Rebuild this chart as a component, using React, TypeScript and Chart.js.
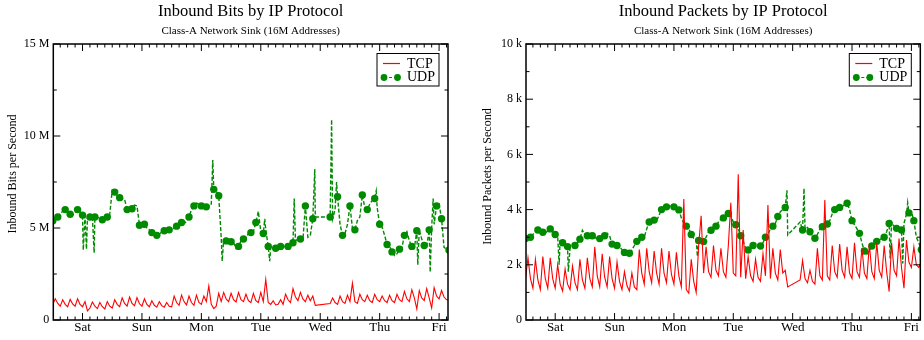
import React, { useEffect, useRef } from 'react';
import { Chart, registerables } from 'chart.js';

Chart.register(...registerables);

// ---------- data (hourly samples, hour 0 = Saturday 00:00) ----------
const START_HOUR = -12;
const DAY_LABELS = ['Sat', 'Sun', 'Mon', 'Tue', 'Wed', 'Thu', 'Fri'];
const SERIES_LABELS = ['TCP', 'UDP'];

// Inbound bits per second, in Mbit/s
const TCP_BITS: (number | null)[] = [
  0.85, 1.15, 0.9, 0.75, 1.1, 0.85, 0.72, 1.12, 0.88, 0.75, 1.15, 0.85,
  0.72, 1.0, 0.5, 0.65, 0.98, 0.75, 0.62, 0.95, 0.72, 0.6, 1.0, 0.75, 0.65,
  1.1, 0.85, 0.72, 1.2, 0.9, 0.75, 1.25, 0.9, 0.78, 1.22, 0.88, 0.75, 1.15, 0.85, 0.72, 1.05, 0.8, 0.7, 1.0, 0.78, 0.7, 0.95, 0.75,
  0.72, 1.3, 0.95, 0.8, 1.35, 1.0, 0.82, 1.3, 0.95, 0.8, 1.35, 0.95, 0.85, 1.3, 1.0, 1.85, 0.85, 0.62, 0.75, 1.45,
  1.0, 1.5, 1.15, 1.0, 1.45, 1.1, 0.98, 1.5, 1.1, 1.0, 1.4, 1.05, 0.95, 1.45, 1.05, 0.95, 1.5, 1.0, 2.2, 0.95, 0.85, 1.05, 0.82, 0.85, 1.1, 0.85,
  1.4, 1.1, 0.95, 1.7, 1.25, 1.05, 1.5, 1.15, 1.0, 1.35, 1.05, 1.3, 0.8,
  null, null, null, null, null,
  0.9, 1.2, 0.95, 0.85, 1.3, 1.0, 0.9, 1.35, 1.0, 2.0, 1.0, 0.9,
  1.4, 1.1, 1.0, 1.35, 1.05, 0.95, 1.4, 1.1, 1.0, 1.3, 1.05, 0.95, 1.35, 1.05, 0.95, 1.4, 1.1, 1.0,
  1.55, 1.15, 1.0, 1.65, 1.2, 0.6, 1.6, 1.2, 1.05, 1.7, 1.2, 0.65, 1.75, 1.3, 1.15, 1.6, 1.25, 1.1, 1.1,
];

const UDP_BITS: (number | null)[] = [
  5.4, 5.45, 5.6, 5.8, 5.9, 6.0, 5.85, 5.75, 5.7, 5.85, 6.0, 5.9,
  5.7, 5.65, 5.6, 5.6, 5.55, 5.6, 5.55, 5.6, 5.45, 5.4, 5.6, 5.75,
  7.05, 6.95, 6.75, 6.65, 6.6, 6.55, 6.0, 6.0, 6.05, 6.25, 6.2, 5.15,
  5.1, 5.2, 5.0, 4.9, 4.75, 4.7, 4.6, 4.65, 4.8, 4.85, 4.95, 4.9,
  4.85, 5.0, 5.1, 5.25, 5.3, 5.25, 5.35, 5.6, 6.0, 6.2, 6.35, 6.3,
  6.2, 6.25, 6.15, 6.2, 6.3, 7.1, 7.0, 6.75, 4.5, 4.35, 4.3, 4.2,
  4.25, 4.2, 3.9, 4.0, 4.3, 4.4, 4.5, 4.7, 4.75, 4.8, 5.3, 5.9,
  4.8, 4.7, 4.9, 4.0, 3.95, 4.0, 3.9, 3.95, 4.0, 4.05, 3.95, 4.0,
  4.05, 4.2, 4.3, 4.4, 4.4, 4.35, 6.2, 4.5, 4.6, 5.5, 5.6,
  null, null, null, null, null,
  5.6, 5.5, 6.0, 6.7, 5.2, 4.6, 4.7, 5.2, 6.2, 5.0, 4.9, 5.4,
  5.6, 6.8, 6.1, 6.0, 6.3, 6.5, 6.6, 6.1, 5.2, 5.05, 4.6, 4.1,
  4.0, 3.7, 3.5, 3.6, 3.85, 3.95, 4.6, 4.8, 4.3, 4.0, 3.9, 4.85,
  4.9, 4.4, 4.05, 4.0, 4.9, 5.0, 5.2, 6.2, 6.3, 5.5, 3.95, 3.85, 3.8,
];
// short-lived UDP bursts / drops between hourly samples
const UDP_BITS_SPIKE_T = [0.3, 1.6, 4.7, 52.6, 56.4, 73.6, 75.6, 85.5, 93.8, 100.6, 102.6, 118.6, 135.4, 140.4, 141.6];
const UDP_BITS_SPIKE_V = [3.8, 3.85, 3.65, 8.7, 3.2, 5.5, 3.2, 6.6, 8.2, 10.9, 7.5, 7.0, 3.0, 2.6, 6.6];

// Inbound packets per second, in kpkt/s
const TCP_PKTS: (number | null)[] = [
  1.5, 2.25, 1.5, 1.15, 2.2, 1.45, 1.1, 2.3, 1.5, 1.15, 2.25, 1.5,
  1.15, 2.0, 1.3, 1.05, 1.85, 1.3, 1.1, 1.95, 1.35, 1.1, 2.2, 1.45, 1.15, 2.25, 1.5, 1.2, 2.65, 1.6, 1.2, 2.4, 1.55, 1.2, 2.3, 1.5,
  1.15, 2.1, 1.4, 1.1, 1.75, 1.25, 1.05, 1.7, 1.2, 1.1,
  2.55, 1.7, 1.3, 2.6, 1.75, 1.35, 2.5, 1.7, 1.3, 2.6, 1.7, 1.35, 2.5, 1.65, 1.3,
  2.45, 1.6, 1.2, 4.38, 1.1, 0.97, 2.2, 1.4, 1.0, 2.7, 3.78, 1.7,
  2.65, 1.75, 1.55, 2.7, 1.8, 1.6, 2.6, 1.75, 1.55, 2.7, 4.25, 1.7, 1.6, 5.28, 1.55, 3.26, 1.5,
  2.3, 1.6, 1.4, 2.2, 1.55, 1.4, 2.4, 1.6, 4.17, 1.5, 2.6, 1.7, 1.45, 2.55, 1.7, 1.8, 1.2,
  null, null, null, null,
  1.45, 2.15, 1.5, 1.35, 1.8, 1.4, 1.3, 2.6, 1.6, 1.45, 4.35, 1.6, 1.45,
  2.7, 1.75, 1.55, 2.75, 1.8, 1.55, 2.65, 1.7, 1.5, 2.8, 1.75, 1.55, 2.6,
  1.7, 1.5, 2.75, 1.75, 1.5, 2.8, 1.8, 1.55, 2.7, 1.75,
  1.03, 2.8, 1.8, 1.6, 2.95, 1.9, 1.15, 2.9, 2.1, 1.9, 2.65, 2.0, 1.9, 2.1,
];

const UDP_PKTS: (number | null)[] = [
  2.95, 2.98, 3.0, 3.1, 3.2, 3.26, 3.22, 3.18, 3.16, 3.22, 3.3, 3.25,
  3.1, 3.05, 2.9, 2.8, 2.72, 2.66, 2.62, 2.65, 2.7, 2.8, 2.93, 3.25,
  3.1, 3.05, 3.08, 3.05, 2.98, 2.96, 2.95, 2.98, 3.05, 3.14, 3.05, 2.75,
  2.72, 2.7, 2.66, 2.55, 2.45, 2.38, 2.42, 2.54, 2.7, 2.85, 2.96, 3.0,
  3.0, 3.3, 3.55, 3.65, 3.62, 3.6, 3.8, 4.0, 4.08, 4.1, 4.12, 4.13,
  4.1, 4.05, 3.99, 3.7, 3.5, 3.4, 3.32, 3.1, 2.96, 2.9, 2.88, 2.85,
  2.84, 3.0, 3.2, 3.25, 3.35, 3.4, 3.55, 3.65, 3.7, 3.8, 3.86, 3.8,
  3.55, 3.45, 3.3, 3.05, 2.85, 2.6, 2.54, 2.6, 2.7, 2.78, 2.72, 2.68,
  2.8, 3.0, 3.1, 3.3, 3.4, 3.5, 3.75, 3.92, 4.0, 4.08, 3.08,
  null, null, null, null,
  3.55, 3.26, 3.3, 3.35, 3.2, 3.0, 2.96, 3.1, 3.3, 3.38, 3.45, 3.48, 3.6,
  3.85, 4.0, 4.05, 4.08, 4.1, 4.18, 4.23, 4.0, 3.6, 3.45, 3.3, 3.14,
  2.8, 2.5, 2.38, 2.5, 2.68, 2.75, 2.85, 2.9, 2.95, 3.0, 3.2, 3.5,
  3.54, 3.4, 3.32, 3.3, 3.26, 3.5, 3.83, 3.88, 3.92, 3.6, 3.0, 2.8, 2.55,
];
const UDP_PKTS_SPIKE_T = [1.6, 5.3, 57.5, 93.7, 100.6, 135.4, 140.5, 142.5];
const UDP_PKTS_SPIKE_V = [2.0, 1.75, 2.3, 4.7, 4.77, 2.23, 2.05, 4.25];

const BITS_Y_TICKS = [0, 2.5, 5, 7.5, 10, 12.5, 15];
const PKTS_Y_TICKS = [0, 1, 2, 3, 4, 5, 6, 7, 8, 9, 10];

// ---------- style ----------
const RED = '#ff0000';
const GREEN = '#008a00';
const FONT = "'Liberation Serif', 'Times New Roman', 'DejaVu Serif', serif";
const X_MIN = -11.8;
const X_MAX = 147.6;

function xTickHours(): number[] {
  const out: number[] = [];
  for (let h = -9; h <= 147; h += 3) out.push(h);
  return out;
}

function buildLine(values: (number | null)[]) {
  return values.map((v, i) => ({ x: START_HOUR + i, y: v }));
}

function buildUdp(values: (number | null)[], st: number[], sv: number[]) {
  const pts: { x: number; y: number | null; m: boolean }[] = values.map((v, i) => ({
    x: START_HOUR + i,
    y: v,
    m: i % 5 === 0 || i % 5 === 2,
  }));
  st.forEach((t, k) => pts.push({ x: t, y: sv[k], m: false }));
  pts.sort((a, b) => a.x - b.x);
  return pts;
}

const framePlugin = {
  id: 'frame',
  afterDatasetsDraw(chart: any, _args: any, opts: any) {
    const { ctx, chartArea: a, scales } = chart;
    const xs = scales.x;
    const ys = scales.y;
    ctx.save();
    ctx.strokeStyle = '#000';
    ctx.lineWidth = 1;
    for (const t of xs.ticks) {
      const px = xs.getPixelForValue(t.value);
      const len = t.value % 24 === 0 ? 7 : 3.5;
      ctx.beginPath();
      ctx.moveTo(px, a.bottom);
      ctx.lineTo(px, a.bottom - len);
      ctx.moveTo(px, a.top);
      ctx.lineTo(px, a.top + len);
      ctx.stroke();
    }
    for (const t of ys.ticks) {
      const py = ys.getPixelForValue(t.value);
      const len = Math.abs(t.value % opts.yMajor) < 1e-9 ? 7 : 3.5;
      ctx.beginPath();
      ctx.moveTo(a.left, py);
      ctx.lineTo(a.left + len, py);
      ctx.moveTo(a.right, py);
      ctx.lineTo(a.right - len, py);
      ctx.stroke();
    }
    ctx.lineWidth = 1.5;
    ctx.strokeRect(a.left, a.top, a.right - a.left, a.bottom - a.top);

    // legend
    const ds = chart.data.datasets;
    const bw = 62;
    const bh = 32.5;
    const bx = a.right - 9 - bw;
    const by = a.top + 9.5;
    ctx.fillStyle = '#fff';
    ctx.fillRect(bx, by, bw, bh);
    ctx.lineWidth = 1;
    ctx.strokeStyle = '#000';
    ctx.strokeRect(bx, by, bw, bh);
    ctx.strokeStyle = ds[0].borderColor;
    ctx.lineWidth = 1.2;
    ctx.beginPath();
    ctx.moveTo(bx + 6, by + 10);
    ctx.lineTo(bx + 23, by + 10);
    ctx.stroke();
    ctx.strokeStyle = ds[1].borderColor;
    ctx.setLineDash([3, 2]);
    ctx.beginPath();
    ctx.moveTo(bx + 7, by + 24);
    ctx.lineTo(bx + 20.5, by + 24);
    ctx.stroke();
    ctx.setLineDash([]);
    ctx.fillStyle = ds[1].borderColor;
    for (const mx of [bx + 7, bx + 20.5]) {
      ctx.beginPath();
      ctx.arc(mx, by + 24, 3.4, 0, Math.PI * 2);
      ctx.fill();
    }
    ctx.fillStyle = '#000';
    ctx.font = `14px ${FONT}`;
    ctx.textAlign = 'left';
    ctx.textBaseline = 'alphabetic';
    ctx.fillText(ds[0].label, bx + 30, by + 14.3);
    ctx.fillText(ds[1].label, bx + 30, by + 27.7);

    // titles
    const cx = (a.left + a.right) / 2;
    ctx.textAlign = 'center';
    ctx.font = `16.5px ${FONT}`;
    ctx.fillText(opts.title, cx, 16.3);
    ctx.font = `11px ${FONT}`;
    ctx.fillText(opts.subtitle, cx, 34);

    // y axis title
    ctx.font = `12px ${FONT}`;
    ctx.translate(opts.yTitleX, opts.yTitleY);
    ctx.rotate(-Math.PI / 2);
    ctx.fillText(opts.yTitle, 0, 0);
    ctx.restore();
  },
};

type PanelSpec = {
  tcp: (number | null)[];
  udp: (number | null)[];
  spikeT: number[];
  spikeV: number[];
  yTicks: number[];
  yMax: number;
  yMajor: number;
  unit: string;
  title: string;
  subtitle: string;
  yTitle: string;
  yTitleX: number;
  yTitleY: number;
  yWidth: number;
  padRight: number;
};

function makeConfig(p: PanelSpec): any {
  const xt = xTickHours();
  return {
    type: 'line',
    data: {
      datasets: [
        {
          label: SERIES_LABELS[0],
          data: buildLine(p.tcp),
          borderColor: RED,
          backgroundColor: RED,
          borderWidth: 1.1,
          pointRadius: 0,
          pointHoverRadius: 0,
          tension: 0,
          spanGaps: true,
        },
        {
          label: SERIES_LABELS[1],
          data: buildUdp(p.udp, p.spikeT, p.spikeV),
          borderColor: GREEN,
          backgroundColor: GREEN,
          borderWidth: 1.4,
          borderDash: [4, 2],
          pointRadius: (c: any) => (c.raw && c.raw.m ? 3.7 : 0),
          pointHoverRadius: 0,
          pointBorderWidth: 0,
          pointBackgroundColor: GREEN,
          pointBorderColor: GREEN,
          tension: 0,
          spanGaps: true,
        },
      ],
    },
    options: {
      responsive: false,
      animation: false,
      events: [],
      layout: { padding: { left: 0, right: p.padRight, top: 44, bottom: 0 } },
      plugins: {
        legend: { display: false },
        title: { display: false },
        tooltip: { enabled: false },
        frame: {
          title: p.title,
          subtitle: p.subtitle,
          yTitle: p.yTitle,
          yTitleX: p.yTitleX,
          yTitleY: p.yTitleY,
          yMajor: p.yMajor,
        },
      },
      scales: {
        x: {
          type: 'linear',
          min: X_MIN,
          max: X_MAX,
          afterBuildTicks: (s: any) => {
            s.ticks = xt.map((v) => ({ value: v }));
          },
          afterFit: (s: any) => {
            s.height = 20;
          },
          grid: { display: false, drawTicks: false },
          border: { display: false },
          ticks: {
            autoSkip: false,
            maxRotation: 0,
            minRotation: 0,
            padding: 0,
            color: '#000',
            font: { family: FONT, size: 13 },
            callback: (v: number) => (v % 24 === 0 ? DAY_LABELS[v / 24] ?? '' : ''),
          },
        },
        y: {
          type: 'linear',
          min: 0,
          max: p.yMax,
          afterBuildTicks: (s: any) => {
            s.ticks = p.yTicks.map((v) => ({ value: v }));
          },
          afterFit: (s: any) => {
            s.width = p.yWidth;
          },
          grid: { display: false, drawTicks: false },
          border: { display: false },
          ticks: {
            autoSkip: false,
            padding: 4,
            color: '#000',
            font: { family: FONT, size: 12 },
            callback: (v: number) =>
              Math.abs(v % p.yMajor) < 1e-9 ? (v === 0 ? '0' : `${v} ${p.unit}`) : '',
          },
        },
      },
    },
    plugins: [framePlugin],
  };
}

function Panel({ spec }: { spec: PanelSpec }) {
  const ref = useRef<HTMLCanvasElement | null>(null);
  useEffect(() => {
    if (!ref.current) return;
    const chart = new Chart(ref.current, makeConfig(spec));
    return () => chart.destroy();
  }, [spec]);
  return <canvas ref={ref} width={462} height={340} style={{ display: 'block', width: 462, height: 340 }} />;
}

const LEFT: PanelSpec = {
  tcp: TCP_BITS,
  udp: UDP_BITS,
  spikeT: UDP_BITS_SPIKE_T,
  spikeV: UDP_BITS_SPIKE_V,
  yTicks: BITS_Y_TICKS,
  yMax: 15,
  yMajor: 5,
  unit: 'M',
  title: 'Inbound Bits by IP Protocol',
  subtitle: 'Class-A Network Sink (16M Addresses)',
  yTitle: 'Inbound Bits per Second',
  yTitleX: 16,
  yTitleY: 174,
  yWidth: 53.3,
  padRight: 14,
};

const RIGHT: PanelSpec = {
  tcp: TCP_PKTS,
  udp: UDP_PKTS,
  spikeT: UDP_PKTS_SPIKE_T,
  spikeV: UDP_PKTS_SPIKE_V,
  yTicks: PKTS_Y_TICKS,
  yMax: 10,
  yMajor: 2,
  unit: 'k',
  title: 'Inbound Packets by IP Protocol',
  subtitle: 'Class-A Network Sink (16M Addresses)',
  yTitle: 'Inbound Packets per Second',
  yTitleX: 29,
  yTitleY: 176.5,
  yWidth: 64,
  padRight: 3.3,
};

export default function App() {
  return (
    <div
      style={{
        position: 'absolute',
        left: 0,
        top: 0,
        width: 924,
        height: 340,
        display: 'flex',
        background: '#fff',
      }}
    >
      <Panel spec={LEFT} />
      <Panel spec={RIGHT} />
    </div>
  );
}
